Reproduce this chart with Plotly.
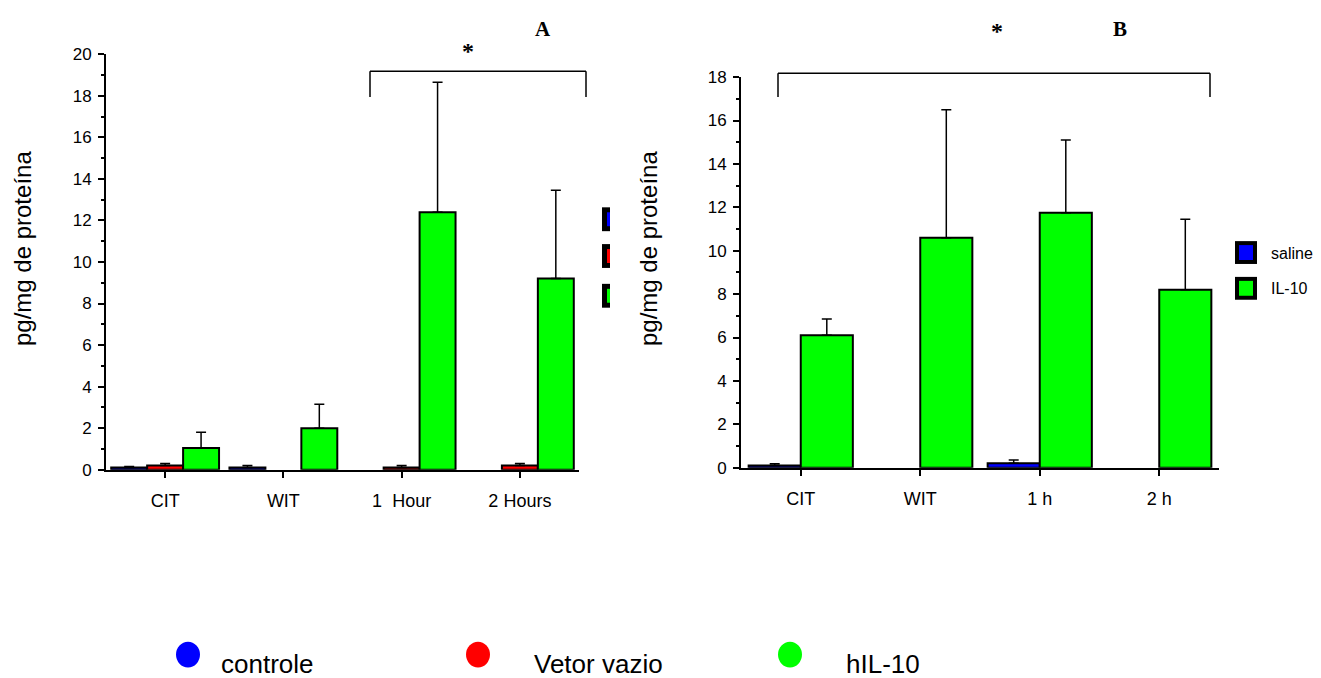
import plotly.graph_objects as go

W, H = 1321, 678

# ---- Panel A data ----
cats_a = ["CIT", "WIT", "1  Hour", "2 Hours"]
ctrl_a = [0.1, 0.1, None, None]
ctrl_a_err = [0.05, 0.1, 0.0, 0.0]
vet_a = [0.2, None, 0.1, 0.2]
vet_a_err = [0.1, 0.0, 0.1, 0.1]
hil_a = [1.05, 2.0, 12.4, 9.2]
hil_a_err = [0.75, 1.15, 6.25, 4.25]

# ---- Panel B data ----
cats_b = ["CIT", "WIT", "1 h", "2 h"]
sal_b = [0.1, None, 0.2, None]
sal_b_err = [0.08, 0.0, 0.15, 0.0]
il_b = [6.1, 10.6, 11.75, 8.2]
il_b_err = [0.75, 5.9, 3.35, 3.25]

BLUE = "#0000ff"
RED = "#ff0000"
GREEN = "#00ff00"
FONT = "Liberation Sans, Arial, sans-serif"
NARROW = "Liberation Sans Narrow, Arial Narrow, Liberation Sans, Arial, sans-serif"
SERIF = "Liberation Serif, Times New Roman, serif"

# page-offset compensation (target pixel -> figure pixel)
OX, OY, SY = 8.0, 14.5, 0.978


def px(x):
    return (x - OX) / W


def py(y):
    return 1 - ((y - OY) / SY) / H


def bar(xc, y, err, color, width, offset, xa, ya):
    return go.Bar(
        x=xc, y=y, width=width, offset=offset,
        marker=dict(color=color, line=dict(color="black", width=2)),
        error_y=dict(type="data", symmetric=False, array=err,
                     arrayminus=[0] * len(err), color="black",
                     thickness=1.5, width=5),
        xaxis=xa, yaxis=ya, showlegend=False,
    )


fig = go.Figure()
fig.add_trace(bar(cats_a, ctrl_a, ctrl_a_err, BLUE, 0.304, -0.456, "x", "y"))
fig.add_trace(bar(cats_a, vet_a, vet_a_err, RED, 0.304, -0.152, "x", "y"))
fig.add_trace(bar(cats_a, hil_a, hil_a_err, GREEN, 0.304, 0.152, "x", "y"))
fig.add_trace(bar(cats_b, sal_b, sal_b_err, BLUE, 0.436, -0.436, "x2", "y2"))
fig.add_trace(bar(cats_b, il_b, il_b_err, GREEN, 0.436, 0.0, "x2", "y2"))

xcommon = dict(showgrid=False, zeroline=False, showline=True, linecolor="black",
               linewidth=2, ticks="outside", ticklen=6, tickwidth=1.5,
               tickcolor="black", range=[-0.5, 3.5], type="category",
               tickfont=dict(family=NARROW, size=18, color="black"),
               ticklabelstandoff=8, fixedrange=True)
ycommon = dict(showgrid=False, zeroline=False, showline=True, linecolor="black",
               linewidth=2, ticks="outside", ticklen=6, tickwidth=1.5,
               tickcolor="black", dtick=2,
               minor=dict(ticks="outside", ticklen=3, dtick=1, tickcolor="black", tickwidth=1.5),
               tickfont=dict(family=FONT, size=17, color="black"),
               ticklabelstandoff=3, fixedrange=True)

fig.update_layout(
    width=W, height=H, autosize=False,
    margin=dict(l=0, r=0, t=0, b=0),
    paper_bgcolor="white", plot_bgcolor="white",
    barmode="overlay",
    xaxis=dict(domain=[px(106), px(579)], anchor="y", **xcommon),
    yaxis=dict(domain=[py(470), py(52)], anchor="x", range=[0, 20], **ycommon),
    xaxis2=dict(domain=[px(741), px(1219)], anchor="y2", **xcommon),
    yaxis2=dict(domain=[py(468), py(75)], anchor="x2", range=[0, 18], **ycommon),
)

shapes = []
annos = []


def line(x0, y0, x1, y1, w=1.5):
    shapes.append(dict(type="line", xref="paper", yref="paper",
                       x0=px(x0), y0=py(y0), x1=px(x1), y1=py(y1),
                       line=dict(color="black", width=w)))


def rect(x0, y0, x1, y1, color):
    shapes.append(dict(type="rect", xref="paper", yref="paper",
                       x0=px(x0), y0=py(y0), x1=px(x1), y1=py(y1),
                       fillcolor=color, line=dict(width=0)))


def text(x, y, s, size, family=FONT, bold=False, xanchor="center", angle=0):
    annos.append(dict(xref="paper", yref="paper", x=px(x), y=py(y),
                      text=("<b>%s</b>" % s) if bold else s,
                      showarrow=False, xanchor=xanchor, yanchor="middle", textangle=angle,
                      font=dict(family=family, size=size, color="black")))


# brackets
line(370, 69, 586, 69)
line(370, 69, 370, 95)
line(586, 69, 586, 95)
line(778, 71, 1210, 71)
line(778, 71, 778, 95)
line(1210, 71, 1210, 95)

text(468, 49, "*", 24, SERIF, bold=True)
text(543, 27, "A", 21, SERIF, bold=True)
text(997, 29, "*", 24, SERIF, bold=True)
text(1120, 27, "B", 21, SERIF, bold=True)

# y titles
text(22, 248, "pg/mg de proteína", 24, angle=-90)
text(648, 248, "pg/mg de proteína", 24, angle=-90)

# clipped legend in panel A
for (y0, col) in [(206, BLUE), (243, RED), (283, GREEN)]:
    rect(602, y0, 610, y0 + 24, "black")
    rect(607, y0 + 5, 610, y0 + 19, col)

# legend panel B
for (y0, col, lab) in [(240, BLUE, "saline"), (276, GREEN, "IL-10")]:
    rect(1235, y0, 1257, y0 + 23, "black")
    rect(1239, y0 + 4, 1253, y0 + 19, col)
    text(1269, y0 + 12, lab, 16, xanchor="left")

# bottom legend
for (cx, col, lab, tx) in [(188, BLUE, "controle", 219), (478, RED, "Vetor vazio", 532),
                           (790, GREEN, "hIL-10", 844)]:
    shapes.append(dict(type="circle", xref="paper", yref="paper",
                       x0=px(cx - 12), x1=px(cx + 12), y0=py(643), y1=py(669),
                       fillcolor=col, line=dict(width=0)))
    text(tx, 666, lab, 26, xanchor="left")

fig.update_layout(shapes=shapes, annotations=annos)
fig.write_html("out.html")
